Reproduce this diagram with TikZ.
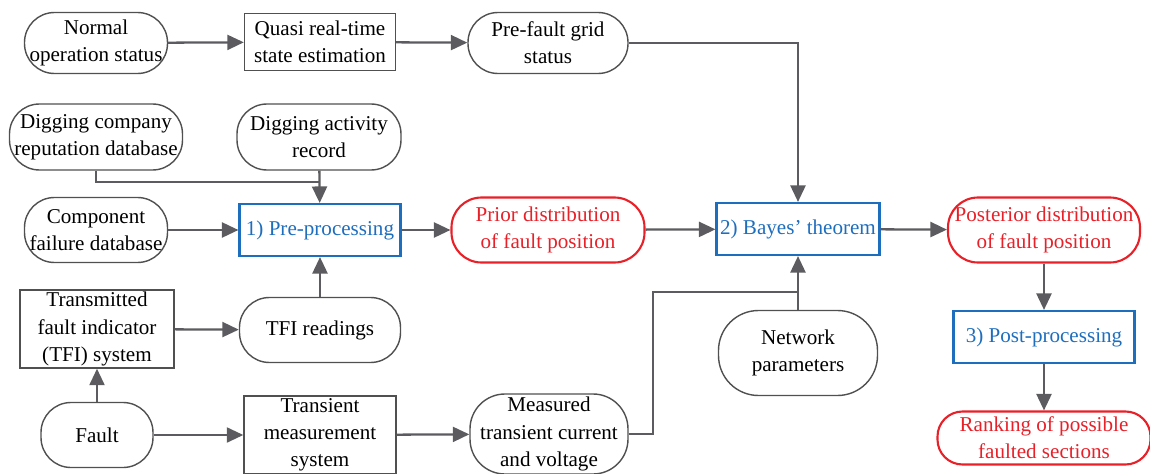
\documentclass[tikz,border=0pt]{standalone}
\usepackage{fontspec}
\setmainfont{Liberation Serif}
\newfontfamily\flowfont{Liberation Serif}
\usetikzlibrary{arrows.meta,positioning}

\definecolor{lngray}{RGB}{92,92,96}
\definecolor{bdgray}{RGB}{80,80,80}
\definecolor{stblue}{RGB}{30,110,190}
\definecolor{resred}{RGB}{232,32,40}

\begin{document}
\begin{tikzpicture}[
  x=0.2mm,y=-0.2mm,
  font=\flowfont\fontsize{12}{15.5}\selectfont,
  sz/.style 2 args={minimum width=#1*0.2mm,minimum height=#2*0.2mm},
  pill/.style={draw=bdgray,line width=0.8pt,rounded corners=6mm,align=center,inner sep=0pt},
  blk/.style={draw=bdgray,line width=0.8pt,align=center,inner sep=0pt},
  stage/.style={blk,draw=stblue,text=stblue,line width=1.2pt},
  res/.style={pill,draw=resred,text=resred,line width=1.2pt},
  ln/.style={draw=lngray,line width=1.3pt},
  arr/.style={ln,-{Triangle[length=3.3mm,width=3mm]}}
]
\useasboundingbox (0,0) rectangle (1150,474);

% inputs
\node[pill,sz={143}{61}] (normal) at (96,43) {Normal\\operation status};
\node[blk,sz={151}{57}] (quasi) at (320,42) {Quasi real-time\\state estimation};
\node[pill,sz={160}{61}] (prefault) at (548,43) {Pre-fault grid\\status};
\node[pill,sz={173}{66}] (digco) at (96,137) {Digging company\\reputation database};
\node[pill,sz={164}{66}] (digact) at (319,137) {Digging activity\\record};
\node[pill,sz={143}{65}] (comp) at (96,230) {Component\\failure database};
\node[blk,sz={154}{78}] (tfisys) at (97,329) {Transmitted\\fault indicator\\(TFI) system};
\node[pill,sz={161}{65}] (tfiread) at (320,330) {TFI readings};
\node[pill,sz={112}{65}] (fault) at (97,435) {Fault};
\node[blk,sz={152}{78}] (trans) at (320,435) {Transient\\measurement\\system};
\node[pill,sz={158}{80},rounded corners=7mm] (meas) at (549,434) {Measured\\transient current\\and voltage};
\node[pill,sz={159}{85},rounded corners=8mm] (netpar) at (798,353) {Network\\parameters};

% processing stages
\node[stage,sz={161}{52}] (pre) at (320,230) {1) Pre-processing};
\node[stage,sz={163}{52}] (bayes) at (798,229) {2) Bayes’ theorem};
\node[stage,sz={181}{52}] (postproc) at (1044,337) {3) Post-processing};

% results
\node[res,sz={193}{65}] (prior) at (548,230) {Prior distribution\\of fault position};
\node[res,sz={192}{65}] (post) at (1044,230) {Posterior distribution\\of fault position};
\node[res,sz={213}{53},rounded corners=5mm] (rank) at (1044,438) {Ranking of possible\\faulted sections};

\coordinate (dj) at (319,182);
\coordinate (mj) at (798,292);

\draw[arr] (normal) -- (quasi);
\draw[arr] (quasi) -- (prefault);
\draw[arr] (prefault) -| (bayes);
\draw[ln] (digco.south) |- (dj);
\draw[arr] (digact) -- (pre);
\draw[arr] (comp) -- (pre);
\draw[arr] (tfiread) -- (pre);
\draw[arr] (tfisys) -- (tfiread);
\draw[arr] (fault) -- (tfisys);
\draw[arr] (fault) -- (trans);
\draw[arr] (trans) -- (meas);
\draw[ln] (meas.east) -- ++(24,0) |- (mj);
\draw[arr] (netpar) -- (bayes);
\draw[arr] (pre) -- (prior);
\draw[arr] (prior) -- (bayes);
\draw[arr] (bayes) -- (post);
\draw[arr] (post) -- (postproc);
\draw[arr] (postproc) -- (rank);
\end{tikzpicture}
\end{document}
